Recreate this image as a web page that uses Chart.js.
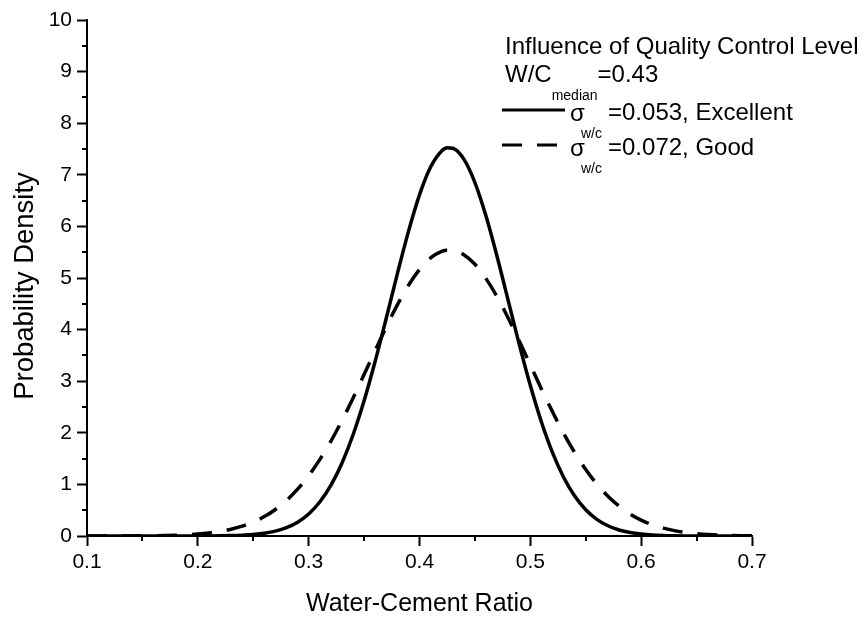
<!DOCTYPE html>
<html>
<head>
<meta charset="utf-8">
<script src="https://cdn.jsdelivr.net/npm/chart.js@4/dist/chart.umd.min.js"></script>
<style>
html,body{margin:0;padding:0;background:#fff;}
#wrap{width:865px;height:620px;position:relative;}
</style>
</head>
<body>
<div id="wrap"><canvas id="c" width="865" height="620"></canvas></div>
<script>
// Water-cement ratio sample points
const xValues = [0.10,0.11,0.12,0.13,0.14,0.15,0.16,0.17,0.18,0.19,0.20,0.21,0.22,0.23,0.24,0.25,0.26,0.27,0.28,0.29,0.30,0.31,0.32,0.33,0.34,0.35,0.36,0.37,0.38,0.39,0.40,0.41,0.42,0.425,0.43,0.44,0.45,0.46,0.47,0.48,0.49,0.50,0.51,0.52,0.53,0.54,0.55,0.56,0.57,0.58,0.59,0.60,0.61,0.62,0.63,0.64,0.65,0.66,0.67,0.68,0.69,0.70];
// sigma = 0.053, Excellent (solid)
const excellent = [0,0,0,0,0,0,0,0,0,0.0003,0.0008,0.0017,0.0037,0.0075,0.0149,0.0285,0.0526,0.0936,0.161,0.267,0.426,0.658,0.981,1.411,1.957,2.619,3.386,4.221,5.080,5.899,6.611,7.150,7.462,7.523,7.515,7.304,6.850,6.201,5.417,4.565,3.714,2.915,2.209,1.615,1.139,0.775,0.509,0.323,0.198,0.117,0.0665,0.0366,0.0194,0.0099,0.0049,0.0023,0.001,0.0004,0.0002,0,0,0];
// sigma = 0.072, Good (dashed)
const good = [0.0002,0.0003,0.0006,0.0011,0.002,0.0034,0.0057,0.0095,0.0154,0.0246,0.0385,0.059,0.0888,0.1312,0.190,0.270,0.376,0.514,0.689,0.907,1.169,1.480,1.836,2.236,2.670,3.128,3.594,4.050,4.478,4.856,5.165,5.389,5.515,5.540,5.536,5.451,5.266,4.988,4.636,4.226,3.778,3.314,2.851,2.406,1.991,1.617,1.288,1.006,0.771,0.580,0.427,0.309,0.219,0.153,0.104,0.0697,0.0458,0.0295,0.0186,0.0115,0.0070,0.0042];

const xTicks = [0.1,0.2,0.3,0.4,0.5,0.6,0.7];
const xMinorTicks = [0.15,0.25,0.35,0.45,0.55,0.65];
const yTicks = [0,1,2,3,4,5,6,7,8,9,10];
const yMinorTicks = [0.5,1.5,2.5,3.5,4.5,5.5,6.5,7.5,8.5,9.5];

const xTitle = 'Water-Cement Ratio';
const yTitle = 'Probability Density';
const legendTitle = 'Influence of Quality Control Level';
const legendMedian = ['W/C', 'median', '=0.43'];
const seriesLabels = ['=0.053, Excellent', '=0.072, Good'];

const FONT = "'Liberation Sans', Arial, Helvetica, sans-serif";

const minorTickPlugin = {
  id: 'minorTicks',
  afterDraw(chart) {
    const ctx = chart.ctx;
    const xs = chart.scales.x, ys = chart.scales.y;
    ctx.save();
    ctx.strokeStyle = '#000';
    ctx.lineWidth = 2;
    ctx.beginPath();
    yMinorTicks.forEach(v => {
      const py = Math.round(ys.getPixelForValue(v));
      ctx.moveTo(ys.right - 5, py);
      ctx.lineTo(ys.right, py);
    });
    xMinorTicks.forEach(v => {
      const px = Math.round(xs.getPixelForValue(v));
      ctx.moveTo(px, xs.top);
      ctx.lineTo(px, xs.top + 5);
    });
    ctx.stroke();
    // y axis title
    ctx.fillStyle = '#000';
    ctx.font = '27.5px ' + FONT;
    ctx.textAlign = 'center';
    ctx.textBaseline = 'alphabetic';
    ctx.translate(33, 286);
    ctx.rotate(-Math.PI / 2);
    ctx.fillText(yTitle, 0, 0);
    ctx.restore();
  }
};

const legendPlugin = {
  id: 'customLegend',
  afterDraw(chart) {
    const ctx = chart.ctx;
    ctx.save();
    ctx.fillStyle = '#000';
    ctx.textBaseline = 'alphabetic';
    ctx.textAlign = 'left';
    const big = '24px ' + FONT;
    const small = '14px ' + FONT;
    ctx.font = big;
    ctx.fillText(legendTitle, 505, 54);
    let x = 505;
    ctx.font = big;
    ctx.fillText(legendMedian[0], x, 82);
    x += ctx.measureText(legendMedian[0]).width;
    ctx.font = small;
    ctx.fillText(legendMedian[1], x, 100);
    x += ctx.measureText(legendMedian[1]).width;
    ctx.font = big;
    ctx.fillText(legendMedian[2], x, 82);
    const rows = [{y: 110, dash: [], text: seriesLabels[0], base: 120},
                  {y: 145, dash: [20, 15], text: seriesLabels[1], base: 155}];
    rows.forEach(r => {
      ctx.strokeStyle = '#000';
      ctx.lineWidth = 3;
      ctx.setLineDash(r.dash);
      ctx.beginPath();
      ctx.moveTo(502, r.y);
      ctx.lineTo(r.dash.length ? 557 : 565, r.y);
      ctx.stroke();
      ctx.setLineDash([]);
      ctx.font = big;
      ctx.fillText('\u03C3', 570, r.base + 1);
      ctx.font = small;
      ctx.fillText('w/c', 581, r.base + 18);
      ctx.font = big;
      ctx.fillText(r.text, 608, r.base);
    });
    ctx.restore();
  }
};

const toPoints = arr => xValues.map((x, i) => ({x: x, y: arr[i]}));

new Chart(document.getElementById('c'), {
  type: 'line',
  data: {
    datasets: [
      {label: 'Excellent', data: toPoints(excellent), borderColor: '#000', borderWidth: 3.5,
       pointRadius: 0, cubicInterpolationMode: 'monotone', fill: false, borderJoinStyle: 'round'},
      {label: 'Good', data: toPoints(good), borderColor: '#000', borderWidth: 3.5,
       borderDash: [20, 15], pointRadius: 0, cubicInterpolationMode: 'monotone', fill: false}
    ]
  },
  options: {
    responsive: false,
    animation: false,
    devicePixelRatio: 1,
    layout: {padding: {top: 20, right: 113, left: 0, bottom: 0}},
    plugins: {legend: {display: false}, tooltip: {enabled: false}},
    scales: {
      x: {
        type: 'linear', min: 0.1, max: 0.7,
        afterBuildTicks: s => { s.ticks = xTicks.map(v => ({value: v})); },
        afterFit: s => { s.height = 84; },
        grid: {drawOnChartArea: false, drawTicks: true, tickLength: 10, tickWidth: 2, tickColor: '#000'},
        border: {display: true, color: '#000', width: 2},
        ticks: {color: '#000', font: {family: FONT, size: 21}, padding: 4, maxRotation: 0,
                callback: v => v.toFixed(1)},
        title: {display: true, text: xTitle, color: '#000',
                font: {family: FONT, size: 25}, padding: {top: 0, bottom: 1}}
      },
      y: {
        type: 'linear', min: 0, max: 10,
        afterBuildTicks: s => { s.ticks = yTicks.map(v => ({value: v})); },
        afterFit: s => { s.width = 87; },
        grid: {drawOnChartArea: false, drawTicks: true, tickLength: 10, tickWidth: 2, tickColor: '#000'},
        border: {display: true, color: '#000', width: 2},
        ticks: {color: '#000', font: {family: FONT, size: 21}, padding: 5,
                callback: v => String(v)},
        title: {display: false}
      }
    }
  },
  plugins: [minorTickPlugin, legendPlugin]
});
</script>
</body>
</html>
